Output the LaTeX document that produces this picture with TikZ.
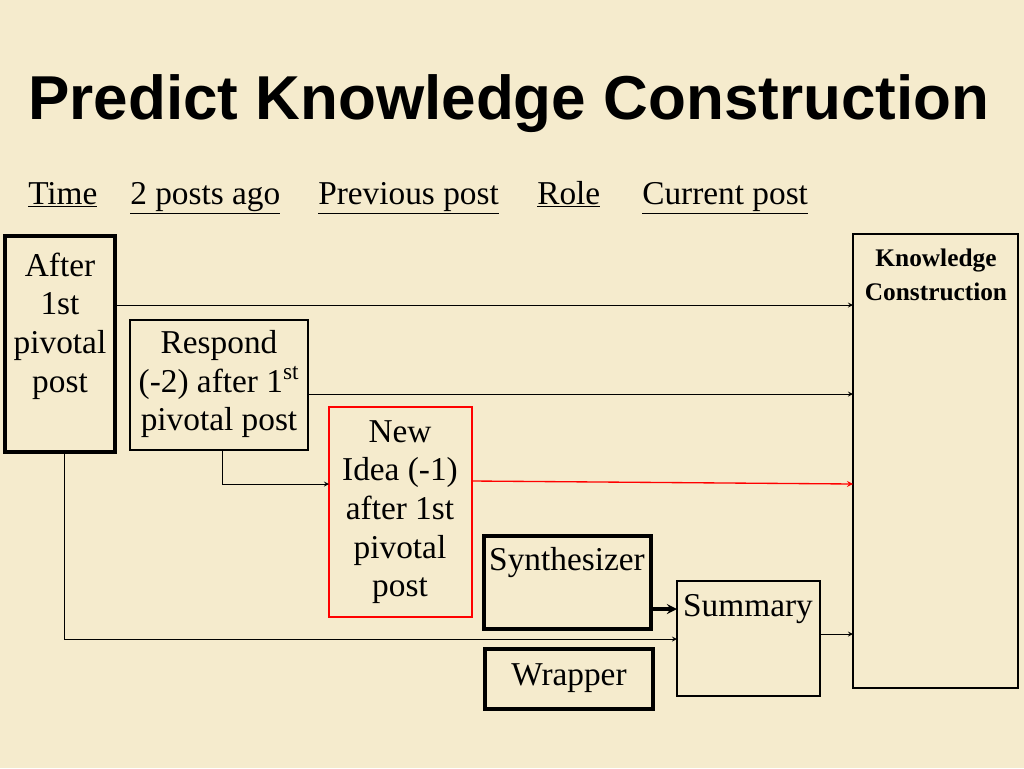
\documentclass[tikz,border=0pt]{standalone}
\usepackage{fontspec}
\setmainfont{Liberation Serif}
\newfontfamily\titlefont{Liberation Sans}
\begin{document}
\begin{tikzpicture}[x=0.75pt,y=-0.75pt,
  bx/.style={draw,line width=0.9pt},
  thk/.style={draw,line width=2.3pt},
  lab/.style={font=\fontsize{25}{29}\selectfont,align=center},
  hd/.style={font=\fontsize{25}{29}\selectfont,anchor=base west,inner sep=0pt},
  arr/.style={-stealth,line width=0.7pt}]
\fill[color={rgb,255:red,245;green,235;blue,205}] (0,0) rectangle (1024,768);
\useasboundingbox (0,0) rectangle (1024,768);
\node[anchor=base west,inner sep=0pt,font=\titlefont\bfseries\fontsize{46.5}{50}\selectfont] (t) at (28,119) {Predict Knowledge Construction};
\node[hd] (h1) at (28,204) {\underline{Time}};
\node[hd] (h2) at (130,204) {\underline{2 posts ago}};
\node[hd] (h3) at (318,204) {\underline{Previous post}};
\node[hd] (h4) at (537,204) {\underline{Role}};
\node[hd] (h5) at (642,204) {\underline{Current post}};
\draw[thk] (5,236) rectangle (115,452);
\node[lab] (a) at (60,326) {After\\1st\\pivotal\\post};
\draw[bx] (130,320) rectangle (308,450);
\node[lab] (b) at (219,384) {Respond\\(-2) after 1\textsuperscript{st}\\pivotal post};
\draw[bx,red] (329,407) rectangle (472,617);
\node[lab] (c) at (400,512) {New\\Idea (-1)\\after 1st\\pivotal\\post};
\draw[thk] (484,536) rectangle (651,629);
\node[lab] (d) at (567,563) {Synthesizer};
\draw[thk] (485,649) rectangle (653,709);
\node[lab] (e) at (569,678) {Wrapper};
\draw[bx] (677,581) rectangle (820,696);
\node[lab] (f) at (748,609) {Summary};
\draw[bx] (853,234) rectangle (1018,688);
\node[font=\bfseries\fontsize{19}{25}\selectfont,align=center] (g) at (936,275) {Knowledge\\Construction};
\coordinate (a1) at (115,305); \coordinate (g1) at (853,305);
\coordinate (b1) at (308,394); \coordinate (g2) at (853,394);
\coordinate (c1) at (472,481); \coordinate (g3) at (853,484);
\coordinate (b2) at (222,450); \coordinate (c2) at (329,484);
\coordinate (a2) at (64,452); \coordinate (f1) at (677,639);
\coordinate (d1) at (651,609); \coordinate (f2) at (677,609);
\coordinate (f3) at (820,634); \coordinate (g4) at (853,634);
\draw[arr] (a1) -- (g1);
\draw[arr] (b1) -- (g2);
\draw[arr,red,line width=1pt] (c1) -- (g3);
\draw[arr] (b2) |- (c2);
\draw[arr] (a2) |- (f1);
\draw[-stealth,line width=2.3pt] (d1) -- (f2);
\draw[arr] (f3) -- (g4);
\end{tikzpicture}
\end{document}
